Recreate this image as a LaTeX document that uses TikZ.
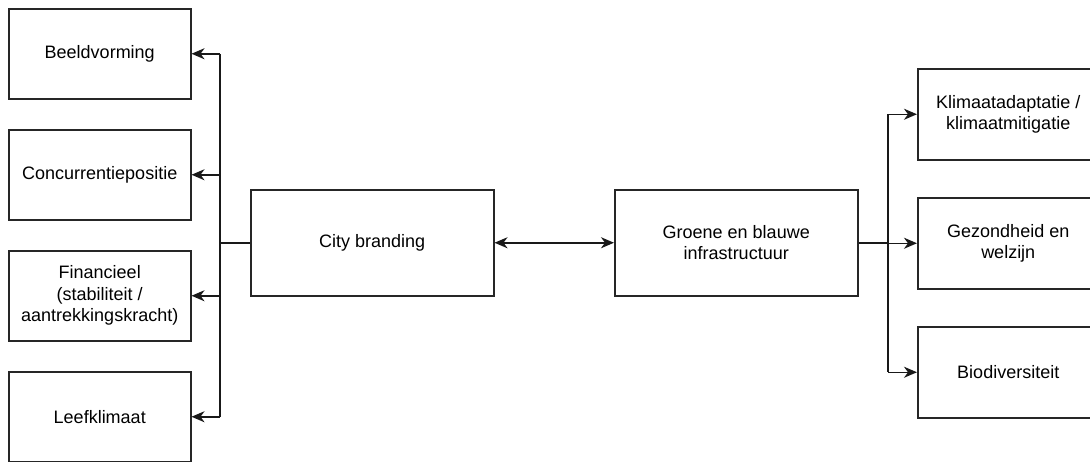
\documentclass[tikz,border=0pt]{standalone}
\usepackage{fontspec}
\setmainfont{Liberation Sans}
\usetikzlibrary{arrows.meta}
\begin{document}
\begin{tikzpicture}[x=1pt,y=-1pt,
  box/.style={draw=black!85, line width=1.5pt, fill=white, inner sep=0pt,
    align=center, font=\fontsize{18}{21.5}\selectfont, anchor=north west},
  link/.style={draw=black!90, line width=1.5pt},
  tip/.style={-{Stealth[length=13pt,width=11pt,inset=4pt]}},
  tips/.style={{Stealth[length=13pt,width=11pt,inset=4pt]}-{Stealth[length=13pt,width=11pt,inset=4pt]}}]
\useasboundingbox (0,0) rectangle (1090,461);

% left column
\node[box, minimum width=182pt, minimum height=90pt] (beeld) at (8,8) {Beeldvorming};
\node[box, minimum width=182pt, minimum height=90pt] (conc) at (8,129) {Concurrentiepositie};
\node[box, minimum width=182pt, minimum height=90pt] (fin) at (8,250) {Financieel\\(stabiliteit /\\aantrekkingskracht)};
\node[box, minimum width=182pt, minimum height=90pt] (leef) at (8,371) {Leefklimaat};

% centre
\node[box, minimum width=243pt, minimum height=106pt] (city) at (250,189) {City branding};
\node[box, minimum width=243pt, minimum height=106pt] (groen) at (614,189) {Groene en blauwe\\infrastructuur};

% right column
\node[box, minimum width=181pt, minimum height=91pt] (klim) at (917,68) {Klimaatadaptatie /\\klimaatmitigatie};
\node[box, minimum width=181pt, minimum height=91pt] (gez) at (917,197) {Gezondheid en\\welzijn};
\node[box, minimum width=181pt, minimum height=91pt] (bio) at (917,326) {Biodiversiteit};

% branch points
\path (city.west) ++(-30,0) coordinate (lj);
\path (groen.east) ++(29.5,0) coordinate (rj);

% city branding to its four outcomes
\draw[link] (city.west) -- (lj);
\draw[link] (beeld.east -| lj) -- (leef.east -| lj);
\draw[link,tip] (beeld.east -| lj) -- (beeld.east);
\draw[link,tip] (conc.east -| lj) -- (conc.east);
\draw[link,tip] (fin.east -| lj) -- (fin.east);
\draw[link,tip] (leef.east -| lj) -- (leef.east);

% mutual relation
\draw[link,tips] (city.east) -- (groen.west);

% green-blue infrastructure to its three benefits
\draw[link] (groen.east) -- (rj);
\draw[link] (klim.west -| rj) -- (bio.west -| rj);
\draw[link,tip] (klim.west -| rj) -- (klim.west);
\draw[link,tip] (gez.west -| rj) -- (gez.west);
\draw[link,tip] (bio.west -| rj) -- (bio.west);
\end{tikzpicture}
\end{document}
